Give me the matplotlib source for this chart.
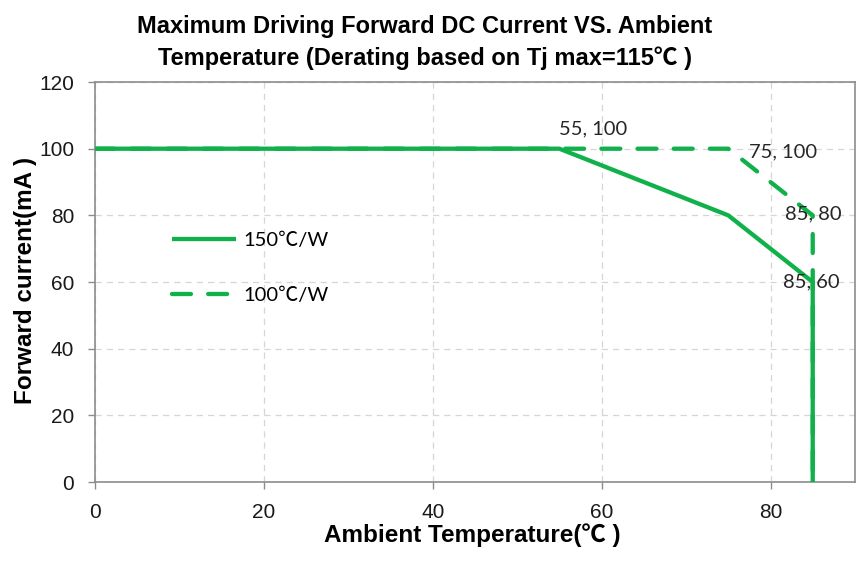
import matplotlib
matplotlib.use('Agg')
import matplotlib.pyplot as plt

# derating curves: ambient temperature (℃) vs max forward current (mA)
temp_150 = [0, 55, 75, 85, 85]
curr_150 = [100, 100, 80, 60, 0]
temp_100 = [0, 75, 85, 85]
curr_100 = [100, 100, 80, 0]

# points that carry a value label, with text offsets in points
label_pts = [(55, 100), (75, 100), (85, 80), (85, 60)]
label_offsets = [(0, 14), (15, -2), (-20, 1), (-21.5, 0)]

x_ticks = [0, 20, 40, 60, 80]
y_ticks = [0, 20, 40, 60, 80, 100, 120]

green = '#10b14b'
frame = '#8c8c8c'
sans = ['Liberation Sans', 'Noto Sans CJK SC', 'DejaVu Sans']
calib = ['Lato', 'Noto Sans CJK SC', 'DejaVu Sans']

fig = plt.figure(figsize=(8.67, 5.62), dpi=100)
ax = fig.add_axes([0.1096, 0.1423, 0.8765, 0.7117])

ax.plot(temp_150, curr_150, color=green, lw=3.1, solid_capstyle='butt',
        solid_joinstyle='miter', label='150℃/W', zorder=3)
ax.plot(temp_100, curr_100, color=green, lw=3.1, linestyle=(0, (4.4, 4.0)),
        dash_capstyle='round', label='100℃/W', zorder=2)

for (x, y), off in zip(label_pts, label_offsets):
    ax.annotate(f'{x}, {y}', (x, y), xytext=off, textcoords='offset points',
                fontsize=14.5, family=calib, color='#262626',
                ha='left', va='center', zorder=4)

ax.set_xlim(0, 90)
ax.set_ylim(0, 120)
ax.set_xticks(x_ticks)
ax.set_yticks(y_ticks)
ax.grid(True, color='#d6d6d6', linestyle=(0, (5, 4)), lw=0.9)
ax.set_axisbelow(True)
for sp in ax.spines.values():
    sp.set_color(frame)
    sp.set_linewidth(1.2)
ax.tick_params(direction='out', length=5, width=1, color=frame,
               labelsize=15, labelcolor='#1a1a1a')
ax.tick_params(axis='x', pad=10)
ax.tick_params(axis='y', pad=10)
for lab in ax.get_xticklabels() + ax.get_yticklabels():
    lab.set_family(sans)

ax.set_xlabel('Ambient Temperature(℃ )', fontsize=17.5, fontweight='bold',
              family=sans, va='center')
ax.xaxis.set_label_coords(0.496, -0.1325)
ax.set_ylabel('Forward current(mA )', fontsize=17.5, fontweight='bold',
              family=sans, va='center')
ax.yaxis.set_label_coords(-0.092, 0.505)

fig.text(0.49, 0.973, 'Maximum Driving Forward DC Current VS. Ambient\n'
         'Temperature (Derating based on Tj max=115℃ )',
         fontsize=17, fontweight='bold', family=sans, ha='center', va='top',
         linespacing=1.45)

ax.legend(loc='center left', bbox_to_anchor=(0.088, 0.535), frameon=False,
          borderpad=0, handlelength=3.2, handletextpad=0.35, labelspacing=1.85,
          prop={'family': calib, 'size': 14.5})

fig.savefig('out.png', dpi=100)
